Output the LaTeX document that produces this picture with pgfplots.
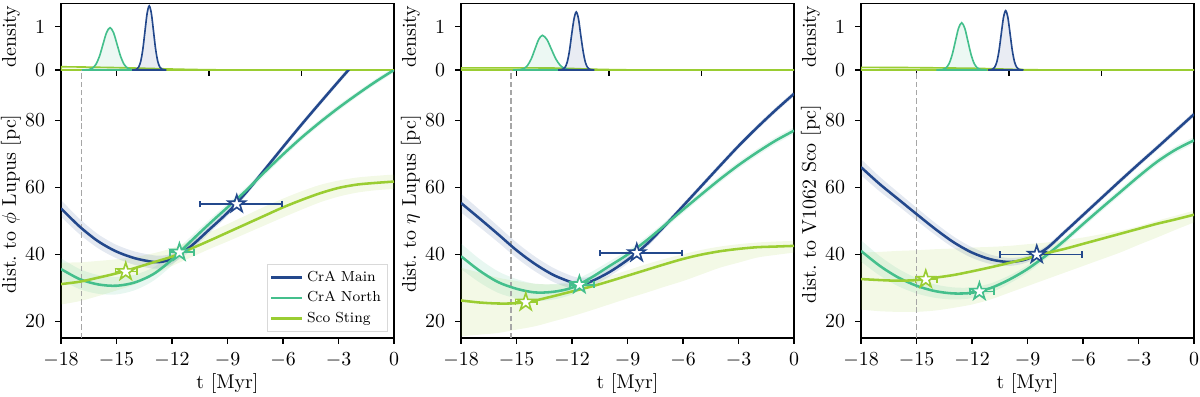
\documentclass[border=0pt]{standalone}
\usepackage{pgfplots}
\pgfplotsset{compat=1.18}
\usepackage{pgfplotstable}
\usepgfplotslibrary{fillbetween}

\definecolor{cmain}{HTML}{23488C}
\definecolor{cnorth}{HTML}{44BF8C}
\definecolor{csting}{HTML}{9ACD32}

% filled five-pointed star (outline + white fill)
\pgfdeclareplotmark{fstar}{%
  \pgfpathmoveto{\pgfqpoint{0pt}{\pgfplotmarksize}}%
  \pgfpathlineto{\pgfqpoint{-0.2245\pgfplotmarksize}{0.309\pgfplotmarksize}}%
  \pgfpathlineto{\pgfqpoint{-0.951\pgfplotmarksize}{0.309\pgfplotmarksize}}%
  \pgfpathlineto{\pgfqpoint{-0.363\pgfplotmarksize}{-0.118\pgfplotmarksize}}%
  \pgfpathlineto{\pgfqpoint{-0.588\pgfplotmarksize}{-0.809\pgfplotmarksize}}%
  \pgfpathlineto{\pgfqpoint{0pt}{-0.382\pgfplotmarksize}}%
  \pgfpathlineto{\pgfqpoint{0.588\pgfplotmarksize}{-0.809\pgfplotmarksize}}%
  \pgfpathlineto{\pgfqpoint{0.363\pgfplotmarksize}{-0.118\pgfplotmarksize}}%
  \pgfpathlineto{\pgfqpoint{0.951\pgfplotmarksize}{0.309\pgfplotmarksize}}%
  \pgfpathlineto{\pgfqpoint{0.2245\pgfplotmarksize}{0.309\pgfplotmarksize}}%
  \pgfpathclose
  \pgfusepathqfillstroke}

\pgfplotsset{
  base/.style={scale only axis, width=183.15pt, xmin=-18, xmax=0,
    font=\fontsize{10.95}{13}\selectfont,
    tick align=outside, tick pos=left, major tick length=3.2pt,
    axis line style={line width=0.7pt}, every tick/.style={black, line width=0.7pt},
    yticklabel style={xshift=-2pt}},
  main/.style={base, height=147.4pt, ymin=15, ymax=95, ytick={20,40,60,80},
    xtick={-18,-15,...,0}, xlabel={t [Myr]}, xticklabel style={yshift=-1.4pt}},
  dens/.style={base, height=36.7pt, ymin=0, ymax=1.54, ytick={0,1},
    xtick={-15,-10,-5}, xticklabels={}, ylabel={density}},
  every axis y label/.style={at={(axis description cs:0,0.5)}, xshift=-27.5pt, rotate=90, anchor=center},
  every axis x label/.style={at={(axis description cs:0.5,0)}, yshift=-25.3pt, anchor=center},
  band/.style={forget plot, draw=none, fill=#1, fill opacity=0.12},
  edge/.style={forget plot, draw=none, smooth},
  curve/.style={#1, line width=1.4pt, smooth},
  dcurve/.style={forget plot, #1, line width=0.9pt, fill=#1, fill opacity=0.1, smooth},
  tzero/.style={forget plot, gray!70, dash pattern=on 3pt off 1.6pt, line width=0.8pt},
  cstar/.style={forget plot, #1, only marks, mark=fstar, mark size=5pt,
    mark options={fill=white, draw=#1, line width=0.9pt},
    error bars/.cd, x dir=both, x explicit, error mark=|,
    error bar style={#1, line width=0.9pt},
    error mark options={#1, line width=0.9pt, mark size=1.8pt}},
}

% ---------- distance to phi Lupus ----------
\pgfplotstableread{
t y lo hi
-18 53.7 51.2 56.2
-17 48.3 46.0 50.6
-16 43.9 41.8 46.0
-15 40.8 38.8 42.8
-14 38.8 36.8 40.8
-13 37.7 35.7 39.7
-12.5 37.8 36.0 39.6
-12 38.7 37.1 40.3
-11 42.3 41.0 43.6
-10 47.3 46.2 48.4
-9 52.4 51.4 53.4
-8 58.4 57.5 59.3
-7 65.2 64.4 66.0
-6 72.0 71.2 72.8
-5 78.7 77.9 79.5
-4 85.2 84.4 86.0
-3 91.6 90.8 92.4
-2 97.9 97.1 98.7
}\mainA
\pgfplotstableread{
t y lo hi
-18 35.6 32.4 38.8
-17 32.6 29.6 35.6
-16 31.0 28.2 33.8
-15 30.6 28.0 33.2
-14 31.6 29.3 33.9
-13 34.1 32.1 36.1
-12 38.4 36.7 40.1
-11 43.8 42.4 45.2
-10 49.0 47.8 50.2
-9 54.0 52.9 55.1
-8 59.0 58.0 60.0
-7 64.5 63.5 65.5
-6 69.8 68.8 70.8
-5 74.8 73.9 75.7
-4 79.4 78.5 80.3
-3 83.7 82.8 84.6
-2 87.7 86.9 88.5
-1 91.5 90.7 92.3
0 95.0 94.2 95.8
}\northA
\pgfplotstableread{
t y lo hi
-18 31.1 25.0 37.5
-17 31.8 26.0 37.6
-16 33.0 27.5 38.0
-15 34.3 29.2 38.5
-14 35.9 31.0 39.2
-13 37.6 33.8 40.3
-12 39.3 36.5 41.8
-11 41.6 39.0 44.0
-10 44.0 41.5 46.5
-9 46.5 43.8 49.0
-8 49.0 46.2 51.6
-7 51.5 48.6 54.2
-6 54.0 51.0 56.6
-5 56.2 53.3 58.8
-4 58.2 55.5 60.7
-3 59.8 57.2 62.0
-2 60.8 58.4 62.9
-1 61.3 59.1 63.4
0 61.7 59.5 63.8
}\stingA

% ---------- distance to eta Lupus ----------
\pgfplotstableread{
t y lo hi
-18 55.3 52.5 58.1
-17 50.7 48.1 53.3
-16 46.0 43.6 48.4
-15 41.2 38.9 43.5
-14 37.1 34.9 39.3
-13 33.8 31.7 35.9
-12 31.6 29.7 33.5
-11.5 31.2 29.4 33.0
-11 31.8 30.2 33.4
-10 34.6 33.3 35.9
-9 38.3 37.2 39.4
-8 42.8 41.8 43.8
-7 48.4 47.5 49.3
-6 54.4 53.6 55.2
-5 60.4 59.6 61.2
-4 66.4 65.6 67.2
-3 72.3 71.5 73.1
-2 77.8 77.0 78.6
-1 83.0 82.2 83.8
0 87.9 87.1 88.7
}\mainB
\pgfplotstableread{
t y lo hi
-18 39.4 35.6 43.2
-17 35.1 31.6 38.6
-16 31.7 28.5 34.9
-15 29.7 26.8 32.6
-14 28.6 26.0 31.2
-13 28.8 26.5 31.1
-12 30.0 28.0 32.0
-11 32.9 31.2 34.6
-10 36.4 35.0 37.8
-9 39.9 38.7 41.1
-8 44.0 42.9 45.1
-7 48.6 47.6 49.6
-6 53.3 52.3 54.3
-5 57.9 56.9 58.9
-4 62.4 61.4 63.4
-3 66.6 65.6 67.6
-2 70.4 69.4 71.4
-1 73.9 72.9 74.9
0 76.9 75.9 77.9
}\northB
\pgfplotstableread{
t y lo hi
-18 26.2 15.5 36.0
-17 25.6 16.0 34.5
-16 25.3 16.5 33.0
-15 25.4 17.5 32.0
-14 26.2 18.5 31.2
-13 27.5 20.0 31.0
-12 28.9 21.5 31.2
-11 30.3 23.2 32.2
-10 31.9 25.0 33.5
-9 33.6 26.8 35.2
-8 35.3 28.5 37.0
-7 37.0 30.3 38.6
-6 38.6 32.0 40.0
-5 39.9 34.0 41.3
-4 40.9 36.0 42.3
-3 41.6 37.5 43.0
-2 42.1 39.0 43.5
-1 42.3 39.8 43.8
0 42.5 40.5 44.0
}\stingB

% ---------- distance to V1062 Sco ----------
\pgfplotstableread{
t y lo hi
-18 66.0 63.6 68.4
-17 61.0 58.8 63.2
-16 56.5 54.5 58.5
-15 52.0 50.1 53.9
-14 47.6 45.8 49.4
-13 43.6 41.9 45.3
-12 40.5 38.9 42.1
-11 38.5 37.1 39.9
-10 37.7 36.5 38.9
-9 38.6 37.6 39.6
-8 41.6 40.7 42.5
-7 46.6 45.8 47.4
-6 51.7 50.9 52.5
-5 56.8 56.0 57.6
-4 61.9 61.1 62.7
-3 66.9 66.1 67.7
-2 71.8 71.0 72.6
-1 76.8 76.0 77.6
0 81.8 81.0 82.6
}\mainC
\pgfplotstableread{
t y lo hi
-18 41.0 37.8 44.2
-17 36.6 33.7 39.5
-16 33.1 30.5 35.7
-15 30.6 28.3 32.9
-14 29.0 27.0 31.0
-13 28.3 26.5 30.1
-12 28.5 26.9 30.1
-11 29.9 28.5 31.3
-10 32.4 31.2 33.6
-9 35.6 34.5 36.7
-8 39.6 38.6 40.6
-7 44.1 43.1 45.1
-6 49.0 48.0 50.0
-5 53.8 52.8 54.8
-4 58.5 57.5 59.5
-3 63.2 62.2 64.2
-2 67.6 66.6 68.6
-1 71.2 70.2 72.2
0 74.0 73.0 75.0
}\northC
\pgfplotstableread{
t y lo hi
-18 32.6 23.5 40.5
-17 32.3 23.0 40.7
-16 32.1 22.8 41.0
-15 32.3 22.8 41.2
-14 33.0 23.2 41.5
-13 33.8 24.0 41.7
-12 34.9 25.0 42.0
-11 36.1 26.5 42.2
-10 37.4 28.5 42.5
-9 38.8 30.5 43.0
-8 40.3 32.5 43.5
-7 41.6 34.5 44.2
-6 43.1 36.5 45.0
-5 44.6 38.5 46.0
-4 46.1 40.5 47.0
-3 47.6 42.8 48.4
-2 49.1 45.0 50.0
-1 50.4 47.3 51.5
0 51.8 49.5 53.0
}\stingC

\begin{document}
\begin{tikzpicture}

% ===== panel 1: density =====
\begin{axis}[dens, at={(33.55pt,179.3pt)}]
\addplot[dcurve=csting] coordinates {(-18,0.075) (-17,0.07) (-16,0.063) (-15,0.055) (-14,0.045) (-13,0.034) (-12,0.022) (-11,0.013) (-10,0.006) (-9,0.002) (-8,0) (0,0)} \closedcycle;
\addplot[dcurve=cnorth] coordinates {(-16.87,0) (-16.49,0.011) (-16.30,0.043) (-16.11,0.132) (-15.92,0.317) (-15.73,0.593) (-15.54,0.862) (-15.35,0.977) (-15.16,0.862) (-14.97,0.593) (-14.78,0.317) (-14.59,0.132) (-14.40,0.043) (-14.21,0.011) (-13.83,0)} \closedcycle;
\addplot[dcurve=cmain] coordinates {(-14.15,0) (-13.92,0.016) (-13.805,0.065) (-13.69,0.200) (-13.575,0.481) (-13.46,0.898) (-13.345,1.306) (-13.23,1.48) (-13.115,1.306) (-13.00,0.898) (-12.885,0.481) (-12.77,0.200) (-12.655,0.065) (-12.54,0.016) (-12.31,0)} \closedcycle;
\end{axis}

% ===== panel 1: distance to phi Lupus =====
\begin{axis}[main, at={(33.55pt,31.9pt)}, ylabel={dist.\ to $\phi$ Lupus [pc]},
  legend style={at={(1,0)}, anchor=south east, xshift=-3.5pt, yshift=3.5pt,
    font=\footnotesize, draw=black!15, inner sep=1.5pt}, legend cell align=left]
\addplot[edge, name path=a1l] table[x=t,y=lo]{\stingA};
\addplot[edge, name path=a1h] table[x=t,y=hi]{\stingA};
\addplot[band=csting] fill between[of=a1l and a1h];
\addplot[edge, name path=a2l] table[x=t,y=lo]{\northA};
\addplot[edge, name path=a2h] table[x=t,y=hi]{\northA};
\addplot[band=cnorth] fill between[of=a2l and a2h];
\addplot[edge, name path=a3l] table[x=t,y=lo]{\mainA};
\addplot[edge, name path=a3h] table[x=t,y=hi]{\mainA};
\addplot[band=cmain] fill between[of=a3l and a3h];
\addplot[tzero] coordinates {(-16.9,15) (-16.9,95)};
\addplot[curve=cmain] table[x=t,y=y]{\mainA};
\addplot[curve=cnorth] table[x=t,y=y]{\northA};
\addplot[curve=csting] table[x=t,y=y]{\stingA};
\addplot[cstar=csting] coordinates {(-14.5,34.8) += (0.6,0) -= (0.55,0)};
\addplot[cstar=cnorth] coordinates {(-11.6,40.6) += (0.8,0) -= (0.5,0)};
\addplot[cstar=cmain] coordinates {(-8.5,55.0) += (2.43,0) -= (2.0,0)};
\legend{CrA Main, CrA North, Sco Sting}
\end{axis}

% ===== panel 2: density =====
\begin{axis}[dens, at={(253.55pt,179.3pt)}]
\addplot[dcurve=csting] coordinates {(-18,0.05) (-15,0.05) (-13,0.045) (-12,0.035) (-11,0.02) (-10,0.01) (-9,0.004) (-8,0) (0,0)} \closedcycle;
\addplot[dcurve=cnorth] coordinates {(-15.2,0) (-14.8,0.009) (-14.6,0.035) (-14.4,0.108) (-14.2,0.260) (-14.0,0.485) (-13.8,0.706) (-13.6,0.8) (-13.36,0.706) (-13.12,0.485) (-12.88,0.260) (-12.64,0.108) (-12.40,0.035) (-12.16,0.009) (-11.7,0)} \closedcycle;
\addplot[dcurve=cmain] coordinates {(-12.75,0) (-12.51,0.015) (-12.38,0.059) (-12.26,0.181) (-12.14,0.435) (-12.02,0.813) (-11.89,1.183) (-11.77,1.34) (-11.65,1.183) (-11.53,0.813) (-11.40,0.435) (-11.28,0.181) (-11.16,0.059) (-11.04,0.015) (-10.79,0)} \closedcycle;
\end{axis}

% ===== panel 2: distance to eta Lupus =====
\begin{axis}[main, at={(253.55pt,31.9pt)}, ylabel={dist.\ to $\eta$ Lupus [pc]}]
\addplot[edge, name path=b1l] table[x=t,y=lo]{\stingB};
\addplot[edge, name path=b1h] table[x=t,y=hi]{\stingB};
\addplot[band=csting] fill between[of=b1l and b1h];
\addplot[edge, name path=b2l] table[x=t,y=lo]{\northB};
\addplot[edge, name path=b2h] table[x=t,y=hi]{\northB};
\addplot[band=cnorth] fill between[of=b2l and b2h];
\addplot[edge, name path=b3l] table[x=t,y=lo]{\mainB};
\addplot[edge, name path=b3h] table[x=t,y=hi]{\mainB};
\addplot[band=cmain] fill between[of=b3l and b3h];
\addplot[tzero] coordinates {(-15.3,15) (-15.3,95)};
\addplot[curve=cmain] table[x=t,y=y]{\mainB};
\addplot[curve=cnorth] table[x=t,y=y]{\northB};
\addplot[curve=csting] table[x=t,y=y]{\stingB};
\addplot[cstar=csting] coordinates {(-14.5,25.7) += (0.6,0) -= (0.55,0)};
\addplot[cstar=cnorth] coordinates {(-11.6,30.9) += (0.8,0) -= (0.5,0)};
\addplot[cstar=cmain] coordinates {(-8.5,40.4) += (2.43,0) -= (2.0,0)};
\end{axis}

% ===== panel 3: density =====
\begin{axis}[dens, at={(473.55pt,179.3pt)}]
\addplot[dcurve=csting] coordinates {(-18,0.06) (-16,0.058) (-14,0.05) (-12,0.04) (-11,0.03) (-10,0.018) (-9,0.008) (-8,0.002) (-7,0) (0,0)} \closedcycle;
\addplot[dcurve=cnorth] coordinates {(-13.92,0) (-13.58,0.012) (-13.41,0.048) (-13.24,0.147) (-13.07,0.354) (-12.90,0.661) (-12.73,0.962) (-12.56,1.09) (-12.39,0.962) (-12.22,0.661) (-12.05,0.354) (-11.88,0.147) (-11.71,0.048) (-11.54,0.012) (-11.20,0)} \closedcycle;
\addplot[dcurve=cmain] coordinates {(-11.14,0) (-10.90,0.015) (-10.78,0.060) (-10.66,0.185) (-10.54,0.445) (-10.42,0.831) (-10.30,1.209) (-10.18,1.37) (-10.06,1.209) (-9.94,0.831) (-9.82,0.445) (-9.70,0.185) (-9.58,0.060) (-9.46,0.015) (-9.22,0)} \closedcycle;
\end{axis}

% ===== panel 3: distance to V1062 Sco =====
\begin{axis}[main, at={(473.55pt,31.9pt)}, ylabel={dist.\ to V1062 Sco [pc]}]
\addplot[edge, name path=c1l] table[x=t,y=lo]{\stingC};
\addplot[edge, name path=c1h] table[x=t,y=hi]{\stingC};
\addplot[band=csting] fill between[of=c1l and c1h];
\addplot[edge, name path=c2l] table[x=t,y=lo]{\northC};
\addplot[edge, name path=c2h] table[x=t,y=hi]{\northC};
\addplot[band=cnorth] fill between[of=c2l and c2h];
\addplot[edge, name path=c3l] table[x=t,y=lo]{\mainC};
\addplot[edge, name path=c3h] table[x=t,y=hi]{\mainC};
\addplot[band=cmain] fill between[of=c3l and c3h];
\addplot[tzero] coordinates {(-15.0,15) (-15.0,95)};
\addplot[curve=cmain] table[x=t,y=y]{\mainC};
\addplot[curve=cnorth] table[x=t,y=y]{\northC};
\addplot[curve=csting] table[x=t,y=y]{\stingC};
\addplot[cstar=csting] coordinates {(-14.5,32.5) += (0.6,0) -= (0.55,0)};
\addplot[cstar=cnorth] coordinates {(-11.6,28.9) += (0.8,0) -= (0.5,0)};
\addplot[cstar=cmain] coordinates {(-8.5,39.9) += (2.43,0) -= (2.0,0)};
\end{axis}

\pgfresetboundingbox
\path[use as bounding box] (0,0) rectangle (660pt,217.8pt);
\end{tikzpicture}
\end{document}
